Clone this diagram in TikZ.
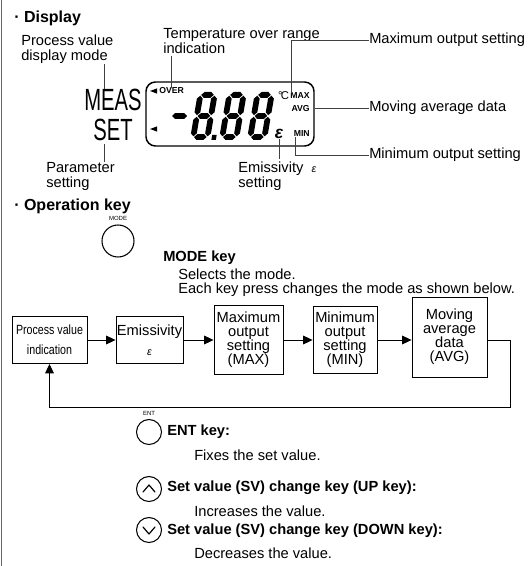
\documentclass[tikz,border=0pt]{standalone}
\usepackage{fontspec}
\setmainfont{Liberation Sans}
\usepackage{graphicx}
\usetikzlibrary{arrows.meta,positioning}

% one segment of the LCD, pointed at both ends
\def\sw{2.9}
\newcommand\hseg[3]{%
  \fill (#1,#3) -- (#1+\sw,#3-\sw) -- (#2-\sw,#3-\sw) -- (#2,#3)
    -- (#2-\sw,#3+\sw) -- (#1+\sw,#3+\sw) -- cycle;}
\newcommand\vseg[3]{%
  \fill (#1,#2) -- (#1+\sw,#2+\sw) -- (#1+\sw,#3-\sw) -- (#1,#3)
    -- (#1-\sw,#3-\sw) -- (#1-\sw,#2+\sw) -- cycle;}

\begin{document}
\begin{tikzpicture}[x=0.75pt, y=-0.75pt,
  lab/.style={inner sep=0pt, align=left, font=\fontsize{11}{11.25}\selectfont},
  head/.style={inner sep=0pt, font=\fontsize{12}{14}\selectfont\bfseries},
  keyname/.style={inner sep=0pt, font=\fontsize{11}{13}\selectfont\bfseries},
  big/.style={inner sep=0pt, font=\fontsize{23}{23}\selectfont},
  lcdtxt/.style={inner sep=0pt, font=\fontsize{6.5}{7}\selectfont\bfseries},
  lcdbox/.style={draw, line width=1.1pt, rounded corners=7pt,
                 minimum width=126pt, minimum height=48pt},
  lead/.style={draw=black!75, line width=0.5pt},
  fbox/.style={draw, line width=0.7pt, align=center, inner sep=0pt,
               font=\fontsize{11}{10.5}\selectfont},
  flow/.style={-{Triangle[length=7pt, width=6.5pt]}, line width=0.6pt},
  keyc/.style={draw, circle, line width=0.8pt, inner sep=0pt, minimum size=18.75pt},
  keytag/.style={inner sep=0pt, font=\fontsize{4.5}{5}\selectfont},
  chev/.style={line width=0.9pt, line cap=round, line join=round},
]
\useasboundingbox (0,0) rectangle (531,566);
\draw[black!60, line width=0.6pt] (1,0) -- (1,566);

% --- display ---
\node[head, anchor=base west] (hdisp) at (14,23) {· Display};
\node[lab, anchor=north west] (pvlab) at (21,35) {Process value\\display mode};
\node[lab, anchor=north west] (tolab) at (163,28) {Temperature over range\\indication};
\node[lab, anchor=west] (maxlab) at (369,40) {Maximum output setting};
\node[lab, anchor=west] (avglab) at (369,108) {Moving average data};
\node[lab, anchor=west] (minlab) at (369,155) {Minimum output setting};
\node[lab, anchor=north west] (parlab) at (46,162) {Parameter\\setting};
\node[lab, anchor=north west] (emlab) at (238,162)
  {Emissivity\ \ {\fontsize{8}{8}\selectfont\itshape ε}\\setting};

\node[big, anchor=base west] (meas) at (84,111) {\scalebox{0.66}[1]{MEAS}};
\node[big, anchor=base west] (set) at (93,141) {\scalebox{0.66}[1]{SET}};

\node[lcdbox] (lcd) at (230,114) {};
\node[lcdtxt, anchor=west] (dover) at (159,91) {OVER};
\node[lcdtxt, anchor=east] (dmax) at (310,96) {MAX};
\node[lcdtxt, anchor=east] (davg) at (310,109) {AVG};
\node[lcdtxt, anchor=east] (dmin) at (310,134) {MIN};
\node[inner sep=0pt, font=\fontsize{8.5}{9}\selectfont, anchor=east]
  (ddeg) at ([xshift=-0.6pt]dmax.west) {°\kern-1.2pt C};
\node[inner sep=0pt, font=\fontsize{13}{13}\selectfont\bfseries\itshape]
  (deps) at (279,134) {ε};
\fill (150,91) -- (157,88.4) -- (157,93.6) -- cycle;
\fill (150,129) -- (157,126.4) -- (157,131.6) -- cycle;

% digits
\hseg{172}{187}{116}
\foreach \dx in {198,227,255} {
  \begin{scope}[shift={(\dx,92)}, xslant=0.17]
    \hseg{3.7}{16.3}{2.9} \hseg{3.7}{16.3}{24} \hseg{3.7}{16.3}{45.1}
    \vseg{2.9}{3.7}{23.2} \vseg{17.1}{3.7}{23.2}
    \vseg{2.9}{24.8}{44.3} \vseg{17.1}{24.8}{44.3}
  \end{scope}
}
\begin{scope}[shift={(198,92)}, xslant=0.17]
  \fill (21.5,43) rectangle (26,48);
\end{scope}

% leaders
\coordinate (pvtip) at (104,64);
\draw[lead] (pvtip) -- (pvtip |- meas.north);
\coordinate (settip) at (104,144);
\draw[lead] (settip) -- (settip |- parlab.north);
\draw[lead] (dover.north) -- ([yshift=-2pt]dover.north |- tolab.south);
\draw[lead] ([xshift=1pt]dmax.north west) |- (maxlab.west);
\draw[lead] (avglab.west) -- (avglab.west -| lcd.east);
\draw[lead] ([xshift=1pt]dmin.south west) |- (minlab.west);
\draw[lead] (deps.south) -- ([yshift=2pt]deps.south |- emlab.north);

% --- operation key ---
\node[head, anchor=base west] (hop) at (14,211) {· Operation key};
\node[keyc, minimum size=24pt] (modek) at (118,241) {};
\node[keytag, above=2.5pt of modek] {MODE};
\node[keyname, anchor=west] (modelab) at (163,258) {MODE key};
\node[lab, anchor=west] (modet1) at (178,274) {Selects the mode.};
\node[lab, anchor=west] (modet2) at (178,290) {Each key press changes the mode as shown below.};

% mode sequence
\node[fbox, minimum width=56.25pt, minimum height=35.25pt,
      font=\fontsize{10}{10.5}\selectfont] (fpv) at (49.5,340)
  {\scalebox{0.8}[1]{Process value}\\[4.5pt]\scalebox{0.8}[1]{indication}};
\node[fbox, minimum width=50.25pt, minimum height=35.25pt] (fem) at (149.5,340)
  {Emissivity\\[4.5pt]{\fontsize{8}{8}\selectfont\itshape ε}};
\node[fbox, minimum width=51.75pt, minimum height=51.75pt] (fmax) at (248.5,340)
  {Maximum\\output\\setting\\(MAX)};
\node[fbox, minimum width=48pt, minimum height=50.25pt] (fmin) at (345,340)
  {Minimum\\output\\setting\\(MIN)};
\node[fbox, minimum width=56.25pt, minimum height=60pt] (favg) at (449.5,337)
  {Moving\\average\\data\\(AVG)};

\foreach \a/\b in {fpv/fem, fem/fmax, fmax/fmin, fmin/favg}
  \draw[flow] (\a.east |- 0,340) -- (\b.west |- 0,340);
\coordinate (back) at (510,407);
\draw[flow] (favg.east |- 0,340) -| (back) -| (fpv.south);

% other keys
\node[keyc] (entk) at (149,432) {};
\node[keytag, above=2.5pt of entk] {ENT};
\node[keyname, anchor=west] (entlab) at (167,432) {ENT key:};
\node[lab, anchor=west] (entt) at (194,455) {Fixes the set value.};

\node[keyc] (upk) at (149,489) {};
\draw[chev] ([shift={(-6,3)}]upk.center) -- ([shift={(0,-4)}]upk.center)
  -- ([shift={(6,3)}]upk.center);
\node[keyname, anchor=west] (uplab) at (167,488) {Set value (SV) change key (UP key):};
\node[lab, anchor=west] (upt) at (194,511) {Increases the value.};

\node[keyc] (downk) at (149,530) {};
\draw[chev] ([shift={(-6,-3)}]downk.center) -- ([shift={(0,4)}]downk.center)
  -- ([shift={(6,-3)}]downk.center);
\node[keyname, anchor=west] (downlab) at (167,531) {Set value (SV) change key (DOWN key):};
\node[lab, anchor=west] (downt) at (194,553) {Decreases the value.};

\end{tikzpicture}
\end{document}
